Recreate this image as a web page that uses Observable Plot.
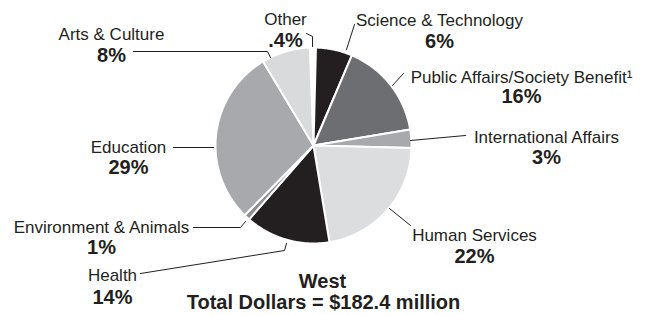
<!DOCTYPE html>
<html>
<head>
<meta charset="utf-8">
<script src="https://cdn.jsdelivr.net/npm/d3@7"></script>
<script src="https://cdn.jsdelivr.net/npm/@observablehq/plot@0.6"></script>
<style>
  html, body { margin: 0; padding: 0; background: #fff; }
  #chart svg { display: block; }
</style>
</head>
<body>
<div id="chart"></div>
<script>
// ---- data ----
const categories = ["Other", "Science & Technology", "Public Affairs/Society Benefit\u00B9", "International Affairs", "Human Services", "Health", "Environment & Animals", "Education", "Arts & Culture"];
const shares = [0.4, 6, 16, 3, 22, 14, 1, 29, 8];
const pctLabels = [".4%", "6%", "16%", "3%", "22%", "14%", "1%", "29%", "8%"];
const regionName = "West";
const totalLabel = "Total Dollars = $182.4 million";

// ---- styles ----
const fills = ["#ffffff", "#231f20", "#6d6e71", "#a7a9ac", "#dcddde", "#231f20", "#8c8e91", "#a7a9ac", "#d9dadb"];
const ink = "#231f20";

// ---- layout (pixel-like units of the x/y scales) ----
const W = 655, H = 315;
const center = [313, 145];
const radius = 98;
// [x, name baseline, percent baseline]
const labelPos = [[285, 24, 46], [439, 25, 47], [521, 82, 102], [546, 142, 163], [474, 240, 262], [112, 280, 303], [101, 232, 253], [128, 152, 173], [111, 39, 61]];
const leaders = [
  [[306, 33], [312, 36], [312, 46]],
  [[354, 24], [346, 49]],
  [[403, 73], [392, 85]],
  [[410, 140], [465, 135]],
  [[389, 208], [410, 225]],
  [[140, 273], [284, 250], [286, 243]],
  [[193, 227], [240, 227], [245, 221]],
  [[173, 147], [213, 147]],
  [[133, 51], [267, 51], [270, 57]]
];
const titlePos = [[322, 287], [323, 308]];

// ---- build slice polygons from the shares ----
const slicePts = [];
let cum = 0;
shares.forEach((v, i) => {
  const a0 = cum / 100 * 2 * Math.PI;
  cum += v;
  const a1 = cum / 100 * 2 * Math.PI;
  const n = Math.max(2, Math.ceil((a1 - a0) / 0.01));
  slicePts.push({k: i, x: center[0], y: center[1], c: fills[i]});
  for (let j = 0; j <= n; j++) {
    const a = a0 + (a1 - a0) * j / n;
    slicePts.push({k: i, x: center[0] + radius * Math.sin(a), y: center[1] - radius * Math.cos(a), c: fills[i]});
  }
});

const leaderPts = leaders.flatMap((pts, i) => pts.map(([x, y]) => ({k: i, x, y})));
const nameRows = categories.map((t, i) => ({t, x: labelPos[i][0], y: labelPos[i][1]}));
const pctRows = pctLabels.map((t, i) => ({t, x: labelPos[i][0], y: labelPos[i][2]}));
const titleRows = [{t: regionName, x: titlePos[0][0], y: titlePos[0][1]}, {t: totalLabel, x: titlePos[1][0], y: titlePos[1][1]}];

const chart = Plot.plot({
  width: W,
  height: H,
  margin: 0,
  x: {domain: [0, W], range: [0, W], axis: null},
  y: {domain: [0, H], range: [0, H], axis: null},
  color: {type: "identity"},
  style: {fontFamily: "'Liberation Sans', Arial, sans-serif", background: "#fff"},
  marks: [
    Plot.line(slicePts, {x: "x", y: "y", z: "k", fill: "c", stroke: "#fff", strokeWidth: 2, strokeLinejoin: "round", curve: "linear-closed"}),
    Plot.line(leaderPts, {x: "x", y: "y", z: "k", stroke: ink, strokeWidth: 1}),
    Plot.text(nameRows, {x: "x", y: "y", text: "t", fill: ink, fontSize: 17, textAnchor: "middle", lineAnchor: "bottom"}),
    Plot.text(pctRows, {x: "x", y: "y", text: "t", fill: ink, fontSize: 20, fontWeight: "bold", textAnchor: "middle", lineAnchor: "bottom"}),
    Plot.text(titleRows, {x: "x", y: "y", text: "t", fill: ink, fontSize: 20, fontWeight: "bold", textAnchor: "middle", lineAnchor: "bottom"})
  ]
});
document.getElementById("chart").appendChild(chart);
</script>
</body>
</html>
